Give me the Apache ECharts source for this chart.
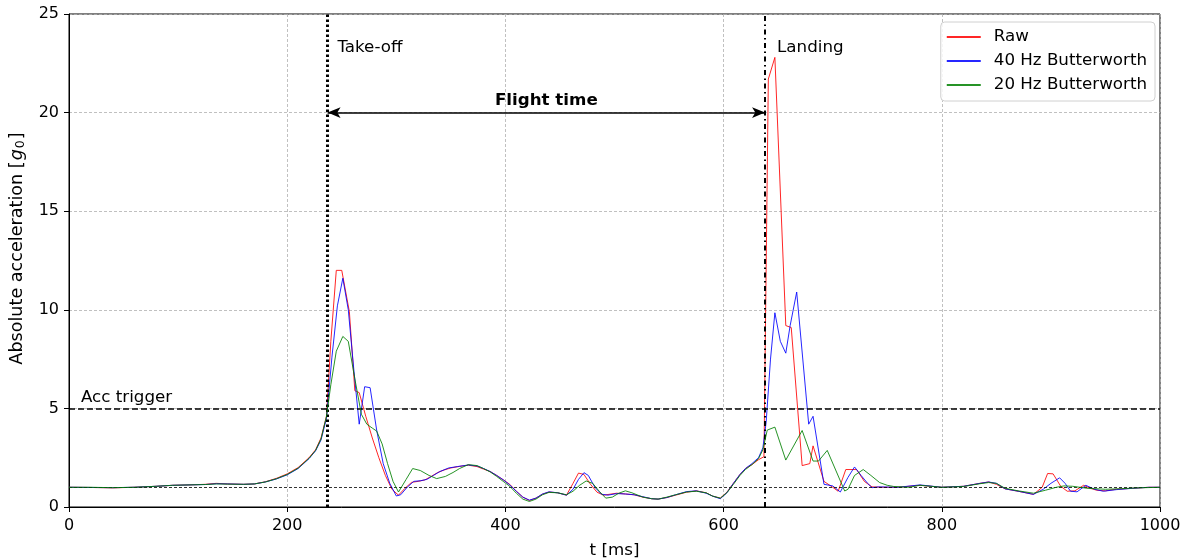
<!DOCTYPE html>
<html>
<head>
<meta charset="utf-8">
<title>Jump acceleration</title>
<script src="https://cdn.jsdelivr.net/npm/echarts@6/dist/echarts.min.js"></script>
<style>
  html, body { margin: 0; padding: 0; background: #fff; }
  #chart { width: 1195px; height: 560px; }
</style>
</head>
<body>
<div id="chart"></div>
<script>
// Absolute acceleration of one jump, [t (ms), g0] pairs for each signal
const rawSignal = [
  [0,1.0],[20,0.99],[40,0.97],[60,1.0],[80,1.05],[95,1.1],[110,1.12],[125,1.15],[135,1.2],[145,1.17],
  [160,1.15],[170,1.17],[180,1.28],[190,1.45],[200,1.68],[210,2.0],[220,2.5],[226,2.9],[231,3.5],[236,4.6],
  [240,8.4],[245,12.0],[250,12.0],[257,9.9],[262,5.9],[266,5.8],[272,4.6],[278,3.5],[284,2.5],[290,1.6],
  [296,0.9],[302,0.6],[308,0.95],[314,1.25],[320,1.3],[326,1.37],[332,1.55],[338,1.75],[344,1.88],[350,1.98],
  [358,2.06],[366,2.12],[374,2.05],[380,1.92],[386,1.8],[392,1.6],[398,1.38],[404,1.15],[410,0.8],[416,0.5],
  [422,0.33],[428,0.45],[434,0.65],[440,0.76],[448,0.72],[456,0.6],[462,1.2],[467,1.72],[472,1.65],[478,1.15],
  [484,0.75],[490,0.6],[496,0.65],[502,0.7],[510,0.66],[518,0.62],[526,0.5],[534,0.42],[540,0.4],[548,0.48],
  [556,0.6],[566,0.75],[575,0.82],[584,0.72],[590,0.55],[597,0.45],[603,0.75],[609,1.2],[615,1.65],[620,1.95],
  [626,2.15],[632,2.4],[637,2.55],[641,21.7],[647,22.8],[657,9.2],[662,9.1],[672,2.1],[679,2.2],[682,3.1],
  [692,1.3],[700,1.0],[705,0.8],[712,1.9],[722,1.9],[729,1.3],[736,1.02],[745,1.0],[760,1.0],[780,1.1],
  [800,1.0],[820,1.05],[835,1.2],[843,1.27],[850,1.15],[858,0.92],[870,0.8],[884,0.64],[892,1.0],[897,1.7],
  [902,1.68],[909,1.05],[915,0.8],[922,0.82],[930,1.1],[936,0.95],[942,0.85],[950,0.82],[960,0.9],[975,0.95],
  [990,1.0],[1000,1.0]
];

const butter40 = [
  [0,1.0],[20,0.99],[40,0.98],[60,1.0],[80,1.05],[95,1.1],[110,1.12],[125,1.14],[135,1.18],[145,1.17],
  [160,1.15],[170,1.17],[180,1.27],[190,1.42],[200,1.63],[210,1.95],[220,2.45],[226,2.85],[231,3.4],[236,4.5],
  [241,7.6],[246,10.2],[251,11.6],[256,10.0],[261,7.0],[266,4.2],[271,6.1],[276,6.05],[282,3.9],[288,2.2],
  [294,1.2],[300,0.56],[304,0.62],[310,1.0],[316,1.3],[322,1.33],[328,1.4],[334,1.6],[340,1.8],[348,1.98],
  [356,2.05],[366,2.13],[374,2.08],[380,1.95],[386,1.8],[392,1.6],[398,1.38],[404,1.12],[410,0.8],[416,0.5],
  [422,0.35],[428,0.45],[434,0.66],[440,0.77],[448,0.72],[456,0.6],[462,0.9],[467,1.4],[472,1.74],[476,1.6],
  [482,1.0],[488,0.65],[494,0.6],[502,0.68],[510,0.66],[518,0.62],[526,0.52],[534,0.42],[540,0.4],[548,0.48],
  [556,0.62],[566,0.78],[575,0.82],[584,0.7],[590,0.55],[597,0.42],[603,0.72],[609,1.2],[615,1.65],[620,1.95],
  [626,2.2],[632,2.5],[636,3.0],[639,4.3],[643,7.5],[647,9.85],[652,8.4],[657,7.8],[661,9.2],[667,10.9],
  [678,4.2],[682,4.6],[692,1.15],[700,1.07],[707,0.76],[714,1.5],[720,2.03],[726,1.6],[732,1.2],[736,0.98],
  [742,1.02],[760,1.0],[780,1.12],[800,1.0],[820,1.05],[835,1.2],[843,1.27],[850,1.2],[858,0.92],[870,0.8],
  [884,0.64],[893,0.9],[900,1.2],[908,1.48],[913,1.2],[918,0.8],[924,0.77],[932,1.1],[940,0.9],[948,0.8],
  [960,0.88],[975,0.95],[990,1.0],[1000,1.0]
];

const butter20 = [
  [0,1.0],[20,1.0],[40,0.98],[60,1.0],[80,1.05],[95,1.1],[110,1.12],[125,1.14],[135,1.17],[145,1.16],
  [160,1.15],[170,1.17],[180,1.27],[190,1.43],[200,1.65],[210,1.97],[220,2.47],[226,2.87],[231,3.45],[236,4.6],
  [240,6.2],[245,7.9],[251,8.65],[256,8.4],[262,6.5],[268,4.7],[273,4.2],[278,4.0],[282,3.85],[287,3.2],
  [292,2.2],[297,1.3],[302,0.76],[309,1.4],[315,1.95],[322,1.85],[330,1.6],[337,1.44],[345,1.55],[352,1.75],
  [358,1.95],[366,2.15],[374,2.1],[380,1.95],[386,1.78],[392,1.55],[398,1.3],[404,1.05],[410,0.7],[416,0.4],
  [422,0.28],[428,0.4],[434,0.62],[440,0.74],[448,0.72],[456,0.62],[462,0.8],[468,1.1],[474,1.32],[480,1.2],
  [486,0.8],[492,0.45],[498,0.5],[504,0.7],[510,0.82],[516,0.72],[526,0.5],[534,0.42],[540,0.4],[548,0.5],
  [556,0.62],[566,0.76],[575,0.8],[584,0.72],[590,0.55],[597,0.45],[603,0.72],[609,1.15],[615,1.6],[620,1.9],
  [626,2.15],[632,2.45],[636,2.9],[640,3.9],[647,4.05],[657,2.38],[672,3.88],[682,2.33],[687,2.33],[695,2.87],
  [711,0.81],[714,0.9],[720,1.6],[728,1.9],[735,1.6],[743,1.24],[750,1.1],[756,1.04],[770,1.0],[780,1.1],
  [800,1.0],[820,1.04],[835,1.18],[843,1.24],[850,1.2],[858,0.95],[870,0.82],[884,0.7],[895,0.85],[905,1.0],
  [912,1.07],[920,1.05],[933,0.95],[950,0.9],[965,0.93],[980,0.97],[1000,1.0]
];

const seriesNames = ['Raw', '40 Hz Butterworth', '20 Hz Butterworth'];
const seriesColors = ['#ff0000', '#0000ff', '#008000'];

// Event markers
const takeoffTime = 237;     // ms
const landingTime = 638;     // ms
const triggerLevel = 5;      // g0
const restLevel = 1;         // g0
const flightArrowLevel = 20; // g0

// Axis ranges and tick spacing
const xMin = 0, xMax = 1000, xStep = 200;
const yMin = 0, yMax = 25, yStep = 5;

const FONT = 'DejaVu Sans';
const FS = 16.7;

const chart = echarts.init(document.getElementById('chart'), null, { renderer: 'canvas' });

const signals = [rawSignal, butter40, butter20];

const lineSeries = signals.map((d, i) => ({
  name: seriesNames[i],
  type: 'line',
  data: d,
  symbol: 'none',
  showSymbol: false,
  smooth: false,
  z: 3 + i,
  lineStyle: { color: seriesColors[i], width: 1, opacity: 0.85 },
  itemStyle: { color: seriesColors[i] },
  emphasis: { disabled: true }
}));

// Reference lines, flight-time arrow and text annotations
const annotationSeries = {
  name: 'annotations',
  type: 'line',
  data: [],
  silent: true,
  z: 10,
  markLine: {
    silent: true,
    animation: false,
    symbol: 'none',
    label: { show: false },
    emphasis: { disabled: true },
    data: [
      { yAxis: restLevel, lineStyle: { color: '#000', width: 0.8, type: [3, 2] } },
      { yAxis: triggerLevel, lineStyle: { color: '#000', width: 1.5, type: [6, 3] } },
      { xAxis: takeoffTime, lineStyle: { color: '#000', width: 3, type: [2.5, 2.5], cap: 'butt' } },
      { xAxis: landingTime, lineStyle: { color: '#000', width: 2, type: [5, 3.5, 1.5, 3.5], cap: 'butt' } },
      [
        { coord: [takeoffTime, flightArrowLevel], symbol: 'arrow', symbolSize: [8, 13],
          lineStyle: { color: '#000', width: 1.5, type: 'solid' } },
        { coord: [landingTime, flightArrowLevel], symbol: 'arrow', symbolSize: [8, 13] }
      ]
    ]
  },
  markPoint: {
    silent: true,
    animation: false,
    symbol: 'circle',
    symbolSize: 0,
    itemStyle: { color: 'transparent' },
    label: {
      show: true, position: 'inside', color: '#000', fontSize: FS, fontFamily: FONT,
      align: 'left', verticalAlign: 'middle'
    },
    data: [
      { coord: [takeoffTime + 9, 23.3], label: { formatter: 'Take-off' } },
      { coord: [landingTime + 11, 23.3], label: { formatter: 'Landing' } },
      { coord: [11, triggerLevel + 0.55], label: { formatter: 'Acc trigger' } },
      { coord: [(takeoffTime + landingTime) / 2, flightArrowLevel + 0.6],
        label: { formatter: 'Flight time', align: 'center', fontWeight: 'bold' } }
    ]
  }
};

const gridDash = { color: '#b0b0b0', width: 0.8, type: [3, 2] };

const option = {
  animation: false,
  backgroundColor: '#fff',
  textStyle: { fontFamily: FONT },
  grid: {
    left: 69, right: 35, top: 14, bottom: 53,
    containLabel: false,
    outerBoundsMode: 'none',
    show: true, borderColor: '#000', borderWidth: 1, backgroundColor: 'transparent'
  },
  legend: {
    data: seriesNames,
    orient: 'vertical',
    right: 40,
    top: 22,
    itemWidth: 34,
    itemHeight: 14,
    itemGap: 6,
    padding: [6, 8, 7, 5],
    backgroundColor: 'rgba(255,255,255,0.85)',
    borderColor: '#d0d0d0',
    borderWidth: 1,
    borderRadius: 4,
    itemStyle: { opacity: 0 },
    textStyle: { fontSize: FS, lineHeight: 18, color: '#000', fontFamily: FONT, padding: [0, 0, 0, 8] }
  },
  xAxis: {
    type: 'value',
    min: xMin, max: xMax, interval: xStep,
    name: 't [ms]',
    nameLocation: 'middle',
    nameGap: 35,
    nameTextStyle: { fontSize: FS, color: '#000', fontFamily: FONT },
    axisLine: { show: true, lineStyle: { color: '#000', width: 1 } },
    axisTick: { show: true, length: 5, lineStyle: { color: '#000' } },
    axisLabel: { fontSize: 16, color: '#000', margin: 11, fontFamily: FONT, formatter: v => String(v) },
    splitLine: { show: true, lineStyle: gridDash }
  },
  yAxis: {
    type: 'value',
    min: yMin, max: yMax, interval: yStep,
    name: '{t|Absolute acceleration [}{g|g}{s|0}{t|]}',
    nameLocation: 'middle',
    nameGap: 39,
    nameRotate: 90,
    nameTextStyle: {
      color: '#000', fontFamily: FONT,
      padding: [0, 0, 0, 24],
      rich: {
        t: { fontSize: 17.6, color: '#000', fontFamily: FONT },
        g: { fontSize: 17.6, color: '#000', fontFamily: FONT, fontStyle: 'italic', padding: [0, 1, 0, 1] },
        s: { fontSize: 12.5, color: '#000', fontFamily: FONT, verticalAlign: 'bottom', padding: [7, 1, 0, 0] }
      }
    },
    axisLine: { show: true, lineStyle: { color: '#000', width: 1 } },
    axisTick: { show: true, length: 5, lineStyle: { color: '#000' } },
    axisLabel: { fontSize: 16, color: '#000', margin: 10, fontFamily: FONT, formatter: v => String(v) },
    splitLine: { show: true, lineStyle: gridDash }
  },
  series: [...lineSeries, annotationSeries]
};

chart.setOption(option);
</script>
</body>
</html>
